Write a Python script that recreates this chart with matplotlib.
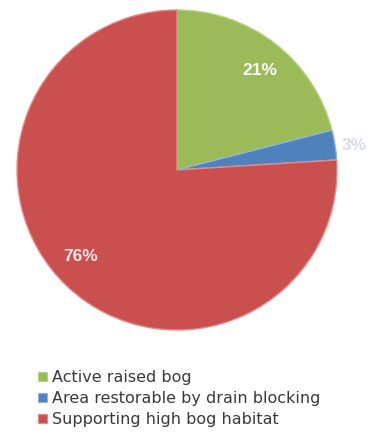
import matplotlib
matplotlib.use("Agg")
import matplotlib.pyplot as plt
from matplotlib.patches import Patch
import numpy as np

# Shares of bog area (%)
categories = ["Active raised bog", "Area restorable by drain blocking",
              "Supporting high bog habitat"]
shares = [21, 3, 76]
colors = ["#9BBB59", "#4F81BD", "#C9504F"]
edge_colors = ["#B8D37A", "#8DB3E2", "#E58A88"]

W, H = 368, 434
fig = plt.figure(figsize=(W / 100, H / 100), dpi=100)

# pie box in pixels: left 17, top 10, diameter 320
ax = fig.add_axes([17 / W, (H - 330) / H, 320 / W, 320 / H])
wedges, _ = ax.pie(shares, colors=colors, startangle=90, counterclock=False,
                   radius=1.0, wedgeprops=dict(linewidth=1.0))
for w, ec in zip(wedges, edge_colors):
    w.set_edgecolor(ec)
ax.set_xlim(-1, 1)
ax.set_ylim(-1, 1)
ax.set_aspect("auto")

# percentage labels near wedge mid-angles
total = sum(shares)
label_r = [0.81, 1.12, 0.81]
label_shift = [-2.0, -1.0, -5.0]
label_col = ["white", "#D8DDE2", "#F6E6E6"]
start = 90.0
for val, r, dth, c in zip(shares, label_r, label_shift, label_col):
    span = 360.0 * val / total
    mid = np.deg2rad(start - span / 2 + dth)
    start -= span
    ax.text(r * np.cos(mid), r * np.sin(mid), f"{val:d}%",
            ha="center", va="center", fontsize=12.5, fontweight="bold",
            color=c, family="Liberation Sans",
            zorder=0 if r > 1 else 5, clip_on=False)

handles = [Patch(facecolor=c, edgecolor=ec, linewidth=0.8, label=lab)
           for c, ec, lab in zip(colors, edge_colors, categories)]
fig.legend(handles=handles, loc="upper left",
           bbox_to_anchor=(38 / W, 1 - 370 / H), frameon=False,
           prop={"family": "DejaVu Sans", "size": 11.5},
           labelcolor="#3A3A3A", handlelength=0.55, handleheight=0.55,
           handletextpad=0.35, labelspacing=0.38, borderpad=0, borderaxespad=0)

fig.savefig("out.png", dpi=100)
